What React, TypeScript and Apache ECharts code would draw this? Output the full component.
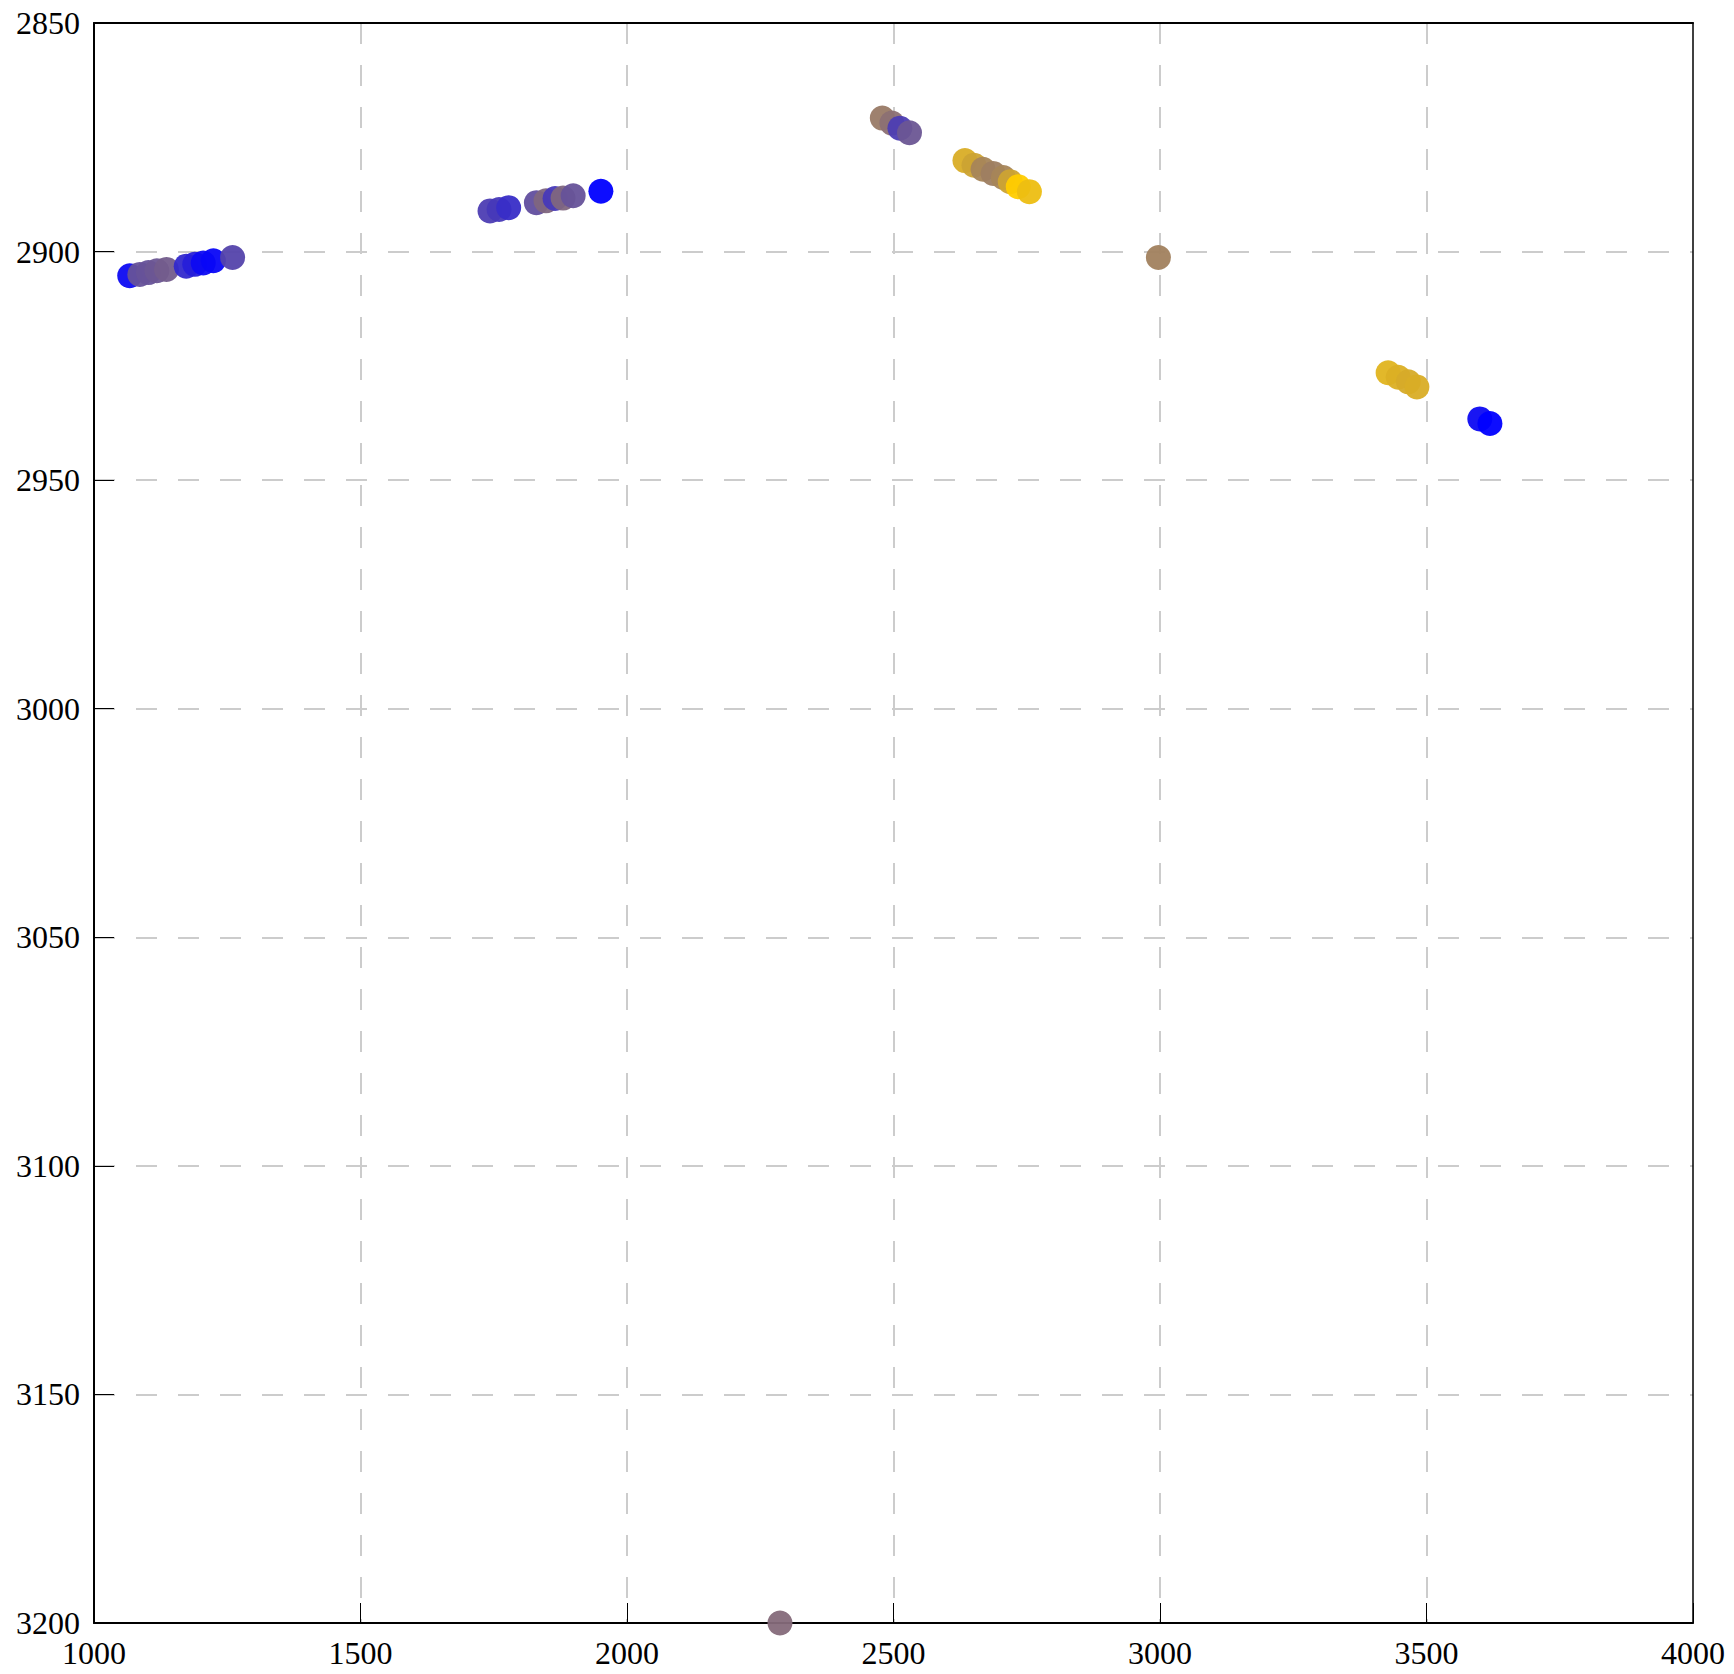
import React, { useEffect, useRef } from "react";
import * as echarts from "echarts";

// x values, y values and colour value (0 = blue, 1 = yellow) of each point
const xValues = [
  1067, 1086, 1102, 1118, 1136, 1173, 1189, 1205, 1224, 1260,
  1743, 1760, 1778, 1830, 1848, 1865, 1880, 1899, 1951,
  2479, 2497, 2512, 2530,
  2634, 2651, 2668, 2687, 2706, 2719, 2734, 2755,
  2997,
  3428, 3447, 3466, 3482,
  3600, 3619,
  2287,
];
const yValues = [
  2905.3, 2905.0, 2904.6, 2904.2, 2903.9, 2903.2, 2902.8, 2902.5, 2902.0, 2901.3,
  2891.1, 2890.8, 2890.4, 2889.3, 2888.9, 2888.4, 2888.3, 2887.8, 2886.8,
  2870.8, 2871.9, 2873.0, 2874.0,
  2880.1, 2881.1, 2882.0, 2882.9, 2883.8, 2884.7, 2885.8, 2886.9,
  2901.3,
  2926.5, 2927.5, 2928.5, 2929.6,
  2936.6, 2937.6,
  3200,
];
const colorValues = [
  0.05, 0.4, 0.4, 0.42, 0.45, 0.2, 0.15, 0.05, 0.03, 0.33,
  0.3, 0.28, 0.22, 0.38, 0.5, 0.28, 0.5, 0.4, 0.0,
  0.6, 0.55, 0.3, 0.42,
  0.85, 0.8, 0.65, 0.62, 0.65, 0.8, 1.0, 0.93,
  0.63,
  0.88, 0.86, 0.84, 0.85,
  0.05, 0.0,
  0.52,
];

const xTicks = { min: 1000, max: 4000, interval: 500 };
const yTicks = { min: 2850, max: 3200, interval: 50 };

export default function App() {
  const ref = useRef<HTMLDivElement>(null);
  useEffect(() => {
    if (!ref.current) return;
    const chart = echarts.init(ref.current, null, { renderer: "svg" });
    const data = xValues.map((x, i) => [x, yValues[i], colorValues[i]]);
    const font = "'Liberation Serif', 'Times New Roman', serif";
    const split = {
      show: true,
      showMinLine: false,
      showMaxLine: false,
      lineStyle: { color: "#cccccc", width: 2, type: [21, 21] },
    };
    chart.setOption({
      animation: false,
      backgroundColor: "#ffffff",
      grid: {
        left: 94,
        right: 41,
        top: 23,
        bottom: 51,
        show: false,
        containLabel: false,
      },
      visualMap: {
        show: false,
        dimension: 2,
        seriesIndex: 0,
        min: 0,
        max: 1,
        inRange: { color: ["#0000ff", "#ffcc00"] },
      },
      xAxis: [
        {
          type: "value",
          min: xTicks.min,
          max: xTicks.max,
          interval: xTicks.interval,
          axisLine: { show: true, onZero: false, lineStyle: { color: "#000", width: 2 } },
          axisTick: { show: true, inside: true, length: 20, lineStyle: { color: "#000", width: 1 } },
          axisLabel: {
            color: "#000",
            fontFamily: font,
            fontSize: 32,
            margin: 14,
            formatter: (v: number) => String(v),
          },
          splitLine: split,
        },
        {
          type: "value",
          position: "top",
          min: xTicks.min,
          max: xTicks.max,
          interval: xTicks.interval,
          axisLine: { show: true, onZero: false, lineStyle: { color: "#000", width: 2 } },
          axisTick: { show: false },
          axisLabel: { show: false },
          splitLine: { show: false },
        },
      ],
      yAxis: [
        {
          type: "value",
          inverse: true,
          min: yTicks.min,
          max: yTicks.max,
          interval: yTicks.interval,
          axisLine: { show: true, onZero: false, lineStyle: { color: "#000", width: 2 } },
          axisTick: { show: true, inside: true, length: 20, lineStyle: { color: "#000", width: 1 } },
          axisLabel: {
            color: "#000",
            fontFamily: font,
            fontSize: 32,
            margin: 14,
            formatter: (v: number) => String(v),
          },
          splitLine: split,
        },
        {
          type: "value",
          position: "right",
          inverse: true,
          min: yTicks.min,
          max: yTicks.max,
          interval: yTicks.interval,
          axisLine: { show: true, onZero: false, lineStyle: { color: "#000", width: 1.5 } },
          axisTick: { show: false },
          axisLabel: { show: false },
          splitLine: { show: false },
        },
      ],
      series: [
        {
          type: "scatter",
          xAxisIndex: 0,
          yAxisIndex: 0,
          data,
          symbol: "circle",
          symbolSize: 25,
          itemStyle: { opacity: 0.95 },
          clip: false,
        },
      ],
    });
    return () => chart.dispose();
  }, []);
  return (
    <div
      ref={ref}
      style={{ position: "absolute", left: 0, top: 0, width: 1734, height: 1674 }}
    />
  );
}
